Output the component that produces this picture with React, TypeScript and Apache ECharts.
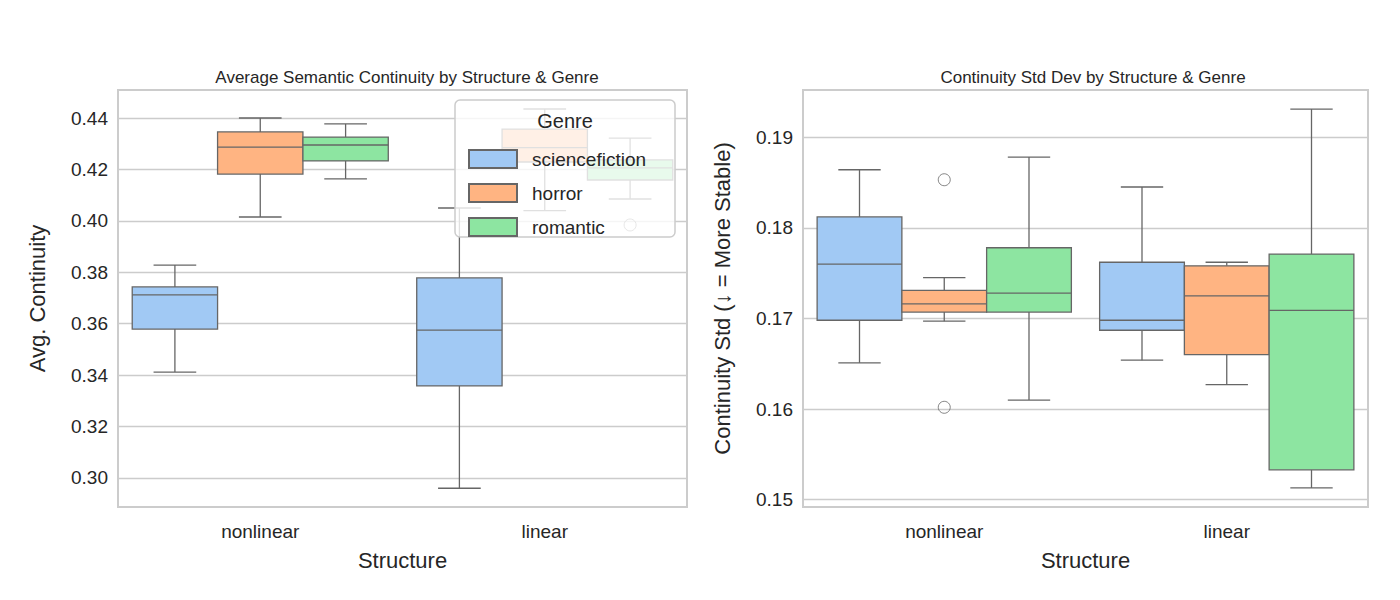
import React, { useEffect, useRef } from 'react';
import * as echarts from 'echarts';

const structures = ['nonlinear', 'linear'];
const genres = ['sciencefiction', 'horror', 'romantic'];
const colors = ['#a1c9f4', '#ffb482', '#8de5a1'];

// [low, q1, median, q3, high] per structure, per genre
const avgBoxes = [
  [[0.3412, 0.3579, 0.3712, 0.3743, 0.3828], [0.296, 0.3358, 0.3575, 0.3778, 0.405]],
  [[0.4015, 0.4182, 0.4287, 0.4346, 0.440], [0.404, 0.4229, 0.4285, 0.4357, 0.4435]],
  [[0.4163, 0.4233, 0.4295, 0.4326, 0.4377], [0.4085, 0.4159, 0.4206, 0.4237, 0.4322]],
];
const avgOutliers = [[1.5 + 0.3, 0.3984]];

const stdBoxes = [
  [[0.1651, 0.1698, 0.176, 0.1812, 0.1864], [0.1654, 0.1687, 0.1698, 0.1762, 0.1845]],
  [[0.1697, 0.1707, 0.1716, 0.1731, 0.1745], [0.1627, 0.166, 0.1725, 0.1758, 0.1762]],
  [[0.161, 0.1707, 0.1728, 0.1778, 0.1878], [0.1513, 0.1533, 0.1709, 0.1771, 0.1931]],
];
const stdOutliers = [[0.5, 0.1853], [0.5, 0.1602]];

const avgTicks = [0.30, 0.32, 0.34, 0.36, 0.38, 0.40, 0.42, 0.44];
const stdTicks = [0.15, 0.16, 0.17, 0.18, 0.19];
const avgRange = [0.2887, 0.4509];
const stdRange = [0.1492, 0.1952];

const LINE = '#666666';
const FONT = 'Arial';
const TXT = '#262626';

const renderBox = (params: any, api: any) => {
  const x = api.value(0);
  const p = [1, 2, 3, 4, 5].map(i => api.coord([x, api.value(i)]));
  const left = api.coord([x - 0.15, api.value(1)])[0];
  const right = api.coord([x + 0.15, api.value(1)])[0];
  const cx = p[0][0];
  const cap = (right - left) / 4;
  const ls = { stroke: LINE, lineWidth: 1.3 };
  return {
    type: 'group',
    children: [
      { type: 'line', shape: { x1: cx, y1: p[0][1], x2: cx, y2: p[1][1] }, style: ls },
      { type: 'line', shape: { x1: cx, y1: p[3][1], x2: cx, y2: p[4][1] }, style: ls },
      { type: 'line', shape: { x1: cx - cap, y1: p[0][1], x2: cx + cap, y2: p[0][1] }, style: ls },
      { type: 'line', shape: { x1: cx - cap, y1: p[4][1], x2: cx + cap, y2: p[4][1] }, style: ls },
      {
        type: 'rect',
        shape: { x: left, y: p[3][1], width: right - left, height: p[1][1] - p[3][1] },
        style: { fill: api.visual('color'), stroke: LINE, lineWidth: 1.3 },
      },
      { type: 'line', shape: { x1: left, y1: p[2][1], x2: right, y2: p[2][1] }, style: ls },
    ],
  };
};

const boxSeries = (boxes: number[][][], xAxisIndex: number, yAxisIndex: number) =>
  genres.map((g, gi) => ({
    name: g,
    type: 'custom',
    xAxisIndex,
    yAxisIndex,
    itemStyle: { color: colors[gi], borderColor: LINE, borderWidth: 1.5 },
    encode: { x: 0, y: [1, 2, 3, 4, 5] },
    renderItem: renderBox,
    data: boxes[gi].map((b, si) => [si + 0.5 + (gi - 1) * 0.3, ...b]),
  }));

const outlierSeries = (pts: number[][], xAxisIndex: number, yAxisIndex: number) => ({
  name: 'outliers',
  type: 'scatter',
  xAxisIndex,
  yAxisIndex,
  symbol: 'circle',
  symbolSize: 12,
  itemStyle: { color: 'rgba(255,255,255,0)', borderColor: LINE, borderWidth: 1 },
  data: pts,
});

const yAxis = (gridIndex: number, range: number[], ticks: number[], name: string) => ({
  type: 'value',
  gridIndex,
  min: range[0],
  max: range[1],
  name,
  nameLocation: 'middle',
  nameGap: 70,
  nameTextStyle: { fontSize: 22, color: TXT, fontFamily: FONT },
  axisLabel: {
    customValues: ticks,
    fontSize: 19,
    color: TXT,
    fontFamily: FONT,
    margin: 10,
    formatter: (v: number) => v.toFixed(2),
  },
  axisLine: { show: false },
  axisTick: { show: false, customValues: ticks },
  splitLine: { lineStyle: { color: '#cccccc', width: 1.3 } },
});

const catAxis = (gridIndex: number) => ({
  type: 'category',
  gridIndex,
  data: structures,
  name: 'Structure',
  nameLocation: 'middle',
  nameGap: 42,
  nameTextStyle: { fontSize: 22, color: TXT, fontFamily: FONT },
  axisLabel: { fontSize: 19, color: TXT, fontFamily: FONT, margin: 15 },
  axisLine: { show: false },
  axisTick: { show: false },
});

const valAxis = (gridIndex: number) => ({
  type: 'value',
  gridIndex,
  min: 0,
  max: 2,
  show: false,
});

export default function App() {
  const ref = useRef<HTMLDivElement>(null);

  useEffect(() => {
    if (!ref.current) return;
    const chart = echarts.init(ref.current, null, { renderer: 'svg' });
    const grid = { show: true, borderColor: '#cccccc', borderWidth: 2, backgroundColor: '#fff' };
    const titleStyle = { fontSize: 17, fontWeight: 'normal', color: TXT, fontFamily: FONT };
    chart.setOption({
      animation: false,
      backgroundColor: '#ffffff',
      title: [
        { text: 'Average Semantic Continuity by Structure & Genre', left: 402, top: 64, textAlign: 'center', textStyle: titleStyle },
        { text: 'Continuity Std Dev by Structure & Genre', left: 1088, top: 64, textAlign: 'center', textStyle: titleStyle },
      ],
      grid: [
        { ...grid, left: 118, top: 90, width: 569, height: 417 },
        { ...grid, left: 803, top: 90, width: 565, height: 417 },
      ],
      xAxis: [catAxis(0), valAxis(0), catAxis(1), valAxis(1)],
      yAxis: [
        yAxis(0, avgRange, avgTicks, 'Avg. Continuity'),
        yAxis(1, stdRange, stdTicks, 'Continuity Std (↓ = More Stable)'),
      ],
      legend: {
        data: genres,
        orient: 'vertical',
        left: 463,
        top: 144,
        itemWidth: 48,
        itemHeight: 18,
        itemGap: 14,
        icon: 'rect',
        z: 6,
        textStyle: { fontSize: 19, color: TXT, fontFamily: FONT, padding: [0, 0, 0, 10] },
      },
      graphic: [
        {
          type: 'rect', z: 5,
          shape: { x: 455, y: 100, width: 220, height: 137, r: 5 },
          style: { fill: 'rgba(255,255,255,0.8)', stroke: '#cccccc', lineWidth: 1.5 },
        },
        {
          type: 'text', z: 6, x: 565, y: 121,
          style: { text: 'Genre', fontSize: 20, fill: TXT, fontFamily: FONT, align: 'center', verticalAlign: 'middle' },
        },
      ],
      series: [
        ...boxSeries(avgBoxes, 1, 0),
        outlierSeries(avgOutliers, 1, 0),
        ...boxSeries(stdBoxes, 3, 1),
        outlierSeries(stdOutliers, 3, 1),
      ],
    });
    return () => chart.dispose();
  }, []);

  return <div ref={ref} style={{ position: 'fixed', left: 0, top: 0, width: 1400, height: 600 }} />;
}
